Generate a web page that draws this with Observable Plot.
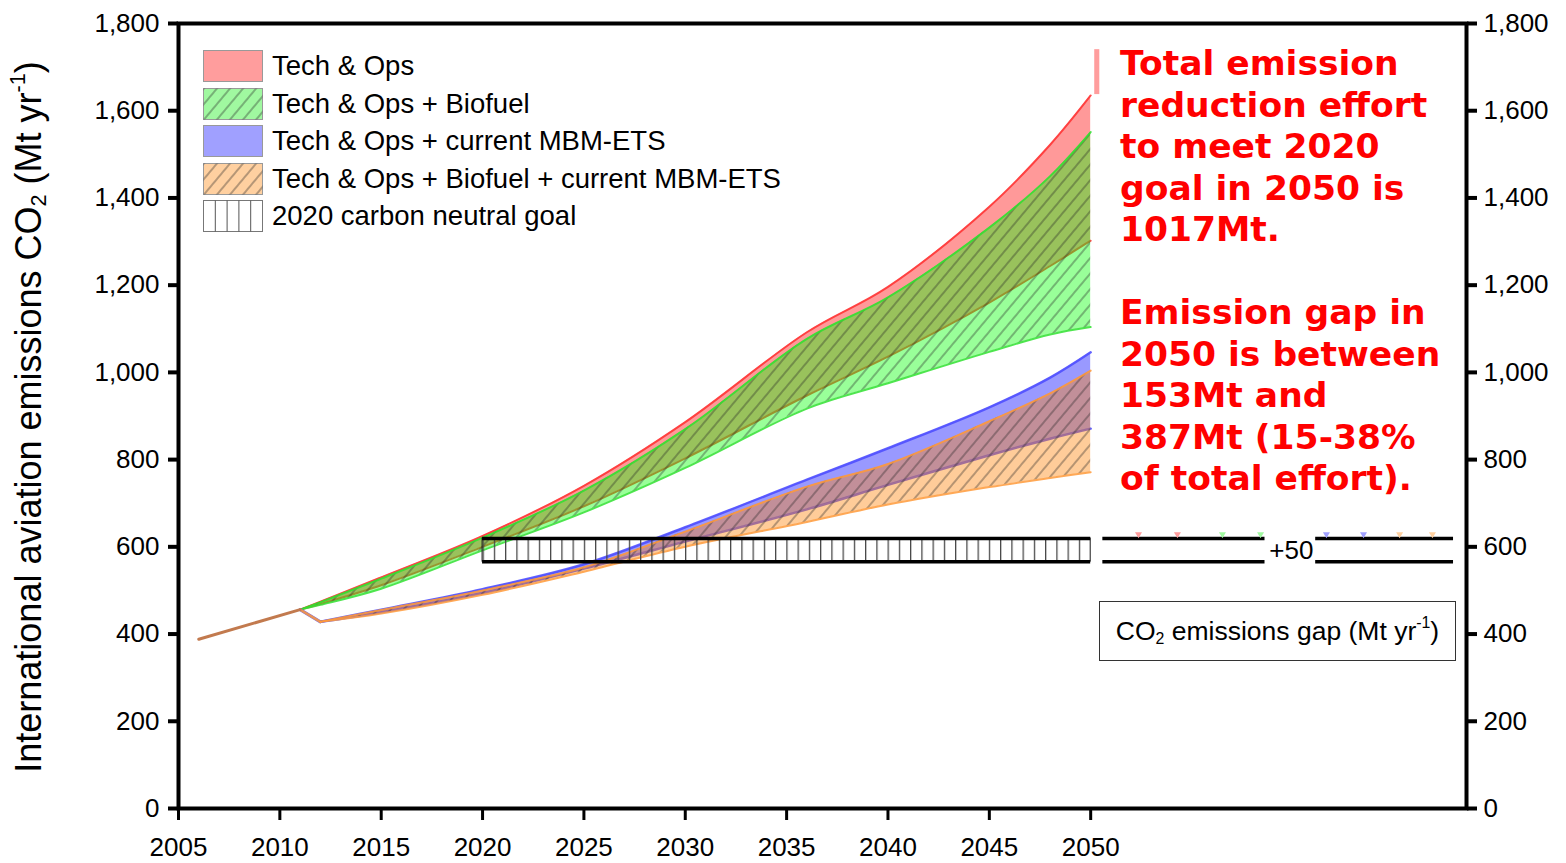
<!DOCTYPE html>
<html><head><meta charset="utf-8">
<script src="https://cdn.jsdelivr.net/npm/d3@7"></script>
<script src="https://cdn.jsdelivr.net/npm/@observablehq/plot@0.6"></script>
<style>
body{margin:0;background:#fff;}
#wrap{position:relative;width:1566px;height:863px;overflow:hidden;font-family:'Liberation Sans',Arial,sans-serif;color:#000;}
#wrap svg.plot{position:absolute;left:0;top:0;}
.ytitle{position:absolute;left:29px;top:417px;transform:translate(-50%,-50%) rotate(-90deg);white-space:nowrap;font-size:36px;}
.ytitle sub,.gapbox sub{font-size:0.6em;vertical-align:-0.25em;line-height:0;}
.ytitle sup,.gapbox sup{font-size:0.6em;vertical-align:0.75em;line-height:0;}
.legend{position:absolute;left:203px;top:50px;}
.legend .row{position:relative;height:37.5px;}
.legend svg{position:absolute;left:0;top:0;}
.legend span{position:absolute;left:69px;top:16px;transform:translateY(-50%);font-size:27.5px;white-space:nowrap;}
.note{position:absolute;left:1120px;top:43px;font-family:'DejaVu Sans',Verdana,sans-serif;font-weight:bold;font-size:34.5px;line-height:41.5px;color:#ff0000;white-space:pre;}
.gapbox{position:absolute;left:1099px;top:601px;width:355px;height:58px;border:1.5px solid #333;font-size:26.5px;display:flex;align-items:center;justify-content:center;white-space:nowrap;background:#fff;}
</style></head><body>
<svg width="0" height="0" style="position:absolute">
<defs>
<pattern id="hatch" patternUnits="userSpaceOnUse" width="10" height="10" patternTransform="rotate(40)"><line x1="1" y1="-2" x2="1" y2="12" stroke="#222" stroke-width="0.9" stroke-opacity="0.75"/></pattern>
<pattern id="vhatch" patternUnits="userSpaceOnUse" width="11.25" height="60"><line x1="0.6" y1="0" x2="0.6" y2="60" stroke="#444" stroke-width="1.3"/></pattern>
</defs></svg>
<div id="wrap"></div>
<script>
// ---------- data ----------
const histYears = [2006, 2011];
const histValues = [388, 456];

const projYears = [2011, 2012, 2015, 2020, 2025, 2030, 2036, 2040, 2045, 2048, 2050];
const techHi   = [456, 474, 530, 625, 740, 886, 1092, 1196, 1380, 1522, 1635];
const techLo   = [456, 469, 512, 600, 693, 803,  947, 1036, 1160, 1244, 1302];
const bioHi    = [456, 473, 527, 621, 729, 870, 1077, 1172, 1332, 1450, 1551];
const bioLo    = [456, 467, 504, 592, 679, 781,  917,  975, 1047, 1087, 1104];
const mbmHi    = [456, 428, 456, 503, 560, 645,  754,  826,  920,  988, 1046];
const mbmLo    = [456, 428, 450, 494, 550, 612,  686,  742,  810,  848,  871];
const bioMbmHi = [456, 428, 455, 500, 553, 635,  738,  790,  888,  952, 1004];
const bioMbmLo = [456, 428, 447, 490, 543, 600,  657,  697,  737,  758,  771];

// 2020 carbon neutral goal band
const goalStart = 2020, goalEnd = 2050, goalLo = 566, goalHi = 619;
// emission gap scale bar at the right (+50)
const gapSegStart = [2050.6, 2061.1];
const gapSegEnd   = [2058.6, 2067.9];
const gapLevels   = [goalLo, goalHi];
const gapLabel = "+50", gapLabelYear = 2059.9, gapLabelValue = 592;
const markerYears  = [2052.36, 2054.28, 2056.5, 2058.38, 2061.63, 2063.46, 2065.24, 2066.86];
const markerSeries = ["tech", "tech", "bio", "bio", "mbm", "mbm", "biombm", "biombm"];
const markerValue = 629;
// small clipped Tech & Ops bar visible at 2050
const sliverX = [2050.2, 2050.45], sliverY = [1637, 1740];

const xTicks = d3.range(2005, 2051, 5);
const yTicks = d3.range(0, 1801, 200);

const legendLabels = ["Tech & Ops", "Tech & Ops + Biofuel", "Tech & Ops + current MBM-ETS",
  "Tech & Ops + Biofuel + current MBM-ETS", "2020 carbon neutral goal"];

// ---------- styles ----------
const fillColor = {tech: "#ff0000", bio: "#00ff00", mbm: "#0000ff", biombm: "#ff8000"};
const lineColor = {tech: "#ff3030", bio: "#30e030", mbm: "#4a4aff", biombm: "#ff9a3a"};
const swatchColor = {tech: "#ff9d9d", bio: "#a0f8a0", mbm: "#a0a0ff", biombm: "#ffd0a0"};

const rows = (hi, lo) => projYears.map((year, i) => ({year, hi: hi[i], lo: lo[i]}));
const curve = "catmull-rom";
function band(all, key, hatched, lw, startYear) {
  // the part where the band has width is drawn smoothly; a leading part where
  // upper = lower (the 2011-2012 drop) is drawn as straight line segments
  const data = all.filter(d => d.year >= startYear);
  const lead = all.filter(d => d.year <= startYear);
  const m = [Plot.areaY(data, {x: "year", y1: "lo", y2: "hi", fill: fillColor[key], fillOpacity: 0.4, curve})];
  if (hatched) m.push(Plot.areaY(data, {x: "year", y1: "lo", y2: "hi", fill: "url(#hatch)", curve}));
  m.push(Plot.lineY(data, {x: "year", y: "hi", stroke: lineColor[key], strokeWidth: lw, strokeOpacity: 0.85, curve}));
  m.push(Plot.lineY(data, {x: "year", y: "lo", stroke: lineColor[key], strokeWidth: lw, strokeOpacity: 0.85, curve}));
  if (lead.length > 1) m.push(Plot.lineY(lead, {x: "year", y: "hi", stroke: lineColor[key], strokeWidth: lw + 0.5, strokeOpacity: 0.85}));
  return m;
}

const histRows = histYears.map((year, i) => ({year, v: histValues[i]}));
const gapRows = [];
gapLevels.forEach(v => gapSegStart.forEach((s, i) => gapRows.push({v, x1: s, x2: gapSegEnd[i]})));
const markerRows = markerYears.map((year, i) => ({year, key: markerSeries[i]}));

const chart = Plot.plot({
  width: 1566, height: 863,
  marginLeft: 178, marginRight: 100, marginTop: 23, marginBottom: 55,
  style: {fontFamily: "'Liberation Sans', Arial, sans-serif", fontSize: "26px", background: "white", color: "black", overflow: "visible"},
  x: {domain: [2005, 2068.54]},
  y: {domain: [0, 1800]},
  marks: [
    Plot.rect([0], {x1: () => sliverX[0], x2: () => sliverX[1], y1: () => sliverY[0], y2: () => sliverY[1], fill: swatchColor.tech}),
    ...band(rows(techHi, techLo), "tech", false, 2, 2011),
    ...band(rows(bioHi, bioLo), "bio", true, 2, 2011),
    ...band(rows(mbmHi, mbmLo), "mbm", false, 2.5, 2012),
    ...band(rows(bioMbmHi, bioMbmLo), "biombm", true, 2, 2012),
    Plot.lineY(histRows, {x: "year", y: "v", stroke: "#c27a4e", strokeWidth: 3}),
    Plot.rect([0], {x1: () => goalStart, x2: () => goalEnd, y1: () => goalLo, y2: () => goalHi, fill: "url(#vhatch)", stroke: "#222", strokeWidth: 1}),
    Plot.ruleY(gapLevels, {x1: goalStart, x2: goalEnd, stroke: "black", strokeWidth: 3.5}),
    Plot.ruleY(gapRows, {y: "v", x1: "x1", x2: "x2", stroke: "black", strokeWidth: 3.5}),
    Plot.dot(markerRows, {x: "year", y: () => markerValue, symbol: "triangle", rotate: 180, r: 2.6, fill: d => swatchColor[d.key], stroke: "none"}),
    Plot.text([gapLabel], {x: () => gapLabelYear, y: () => gapLabelValue, text: d => d, fontSize: 26}),
    Plot.axisY({anchor: "left", ticks: yTicks, tickFormat: d3.format(","), tickSize: 10, tickPadding: 9, strokeWidth: 4, fontSize: 26, label: null}),
    Plot.axisY({anchor: "right", ticks: yTicks, tickFormat: d3.format(","), tickSize: 10, tickPadding: 7, strokeWidth: 4, fontSize: 26, label: null}),
    Plot.axisX({ticks: xTicks, tickFormat: d => String(d), tickSize: 12, tickPadding: 17, strokeWidth: 3, fontSize: 26, label: null}),
    Plot.frame({stroke: "black", strokeWidth: 4})
  ]
});
chart.classList.add("plot");
const wrap = document.getElementById("wrap");
wrap.appendChild(chart);
// align the vertical goal hatch with the start of the box
document.getElementById("vhatch").setAttribute("x", chart.scale("x").apply(goalStart) + 0.5);

// y title
const yt = document.createElement("div");
yt.className = "ytitle";
yt.innerHTML = "International aviation emissions CO<sub>2</sub> (Mt yr<sup>-1</sup>)";
wrap.appendChild(yt);

// legend
const lg = document.createElement("div");
lg.className = "legend";
const keys = ["tech", "bio", "mbm", "biombm", "goal"];
keys.forEach((k, i) => {
  const row = document.createElement("div");
  row.className = "row";
  let sw;
  if (k === "goal") {
    sw = `<rect x="0.5" y="0.5" width="59" height="31" fill="white" stroke="#777"/>` +
      [1, 2, 3, 4].map(j => `<line x1="${0.5 + j * 11.8}" y1="0.5" x2="${0.5 + j * 11.8}" y2="31.5" stroke="#555" stroke-width="1"/>`).join("");
  } else {
    const hatched = k === "bio" || k === "biombm";
    sw = `<rect x="0.5" y="0.5" width="59" height="31" fill="${swatchColor[k]}" stroke="#999"/>` +
      (hatched ? `<rect x="0.5" y="0.5" width="59" height="31" fill="url(#hatch)" stroke="none"/>` : "");
  }
  row.innerHTML = `<svg width="61" height="33">${sw}</svg><span>${legendLabels[i]}</span>`;
  lg.appendChild(row);
});
wrap.appendChild(lg);

// red annotation
const note = document.createElement("div");
note.className = "note";
note.textContent = "Total emission\nreduction effort\nto meet 2020\ngoal in 2050 is\n1017Mt.\n\nEmission gap in\n2050 is between\n153Mt and\n387Mt (15-38%\nof total effort).";
wrap.appendChild(note);

// gap box
const gb = document.createElement("div");
gb.className = "gapbox";
gb.innerHTML = "<span>CO<sub>2</sub> emissions gap (Mt yr<sup>-1</sup>)</span>";
wrap.appendChild(gb);
</script>
</body></html>
